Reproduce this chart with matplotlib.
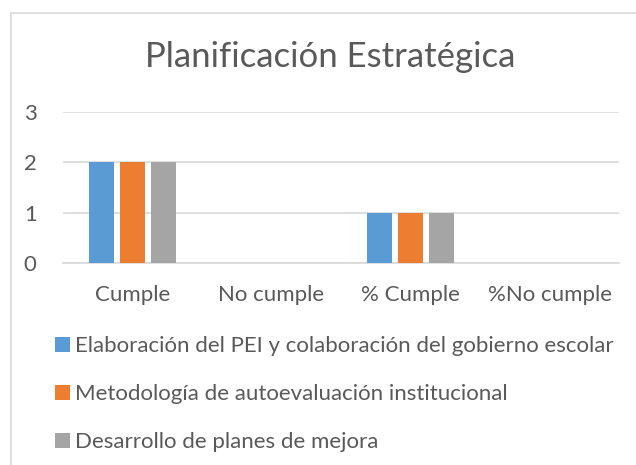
import matplotlib.pyplot as plt
import numpy as np
from matplotlib.patches import Rectangle

plt.rcParams['font.family'] = ['Lato', 'DejaVu Sans']

categorias = ['Cumple', 'No cumple', '% Cumple', '%No cumple']
series = ['Elaboración del PEI y colaboración del gobierno escolar',
          'Metodología de autoevaluación institucional',
          'Desarrollo de planes de mejora']
valores = [[2, 0, 1, 0],
           [2, 0, 1, 0],
           [2, 0, 1, 0]]
colores = ['#5b9bd5', '#ed7d31', '#a5a5a5']
gris_txt = '#595959'

W, H = 636, 465
fig = plt.figure(figsize=(W / 100, H / 100), dpi=100)
# marco del grafico (sale por abajo y por la derecha)
fig.patches.append(Rectangle((11 / W, -0.05), 0.99, 1 - 13 / H + 0.05,
                             transform=fig.transFigure, fill=False,
                             edgecolor='#d9d9d9', linewidth=1.2))

ax = fig.add_axes([63 / W, 1 - 263 / H, 556 / W, 151 / H])
x = np.arange(len(categorias))
ancho = 0.18
paso = 0.223
for i, (v, c) in enumerate(zip(valores, colores)):
    ax.bar(x + (i - 1) * paso, v, ancho, color=c, label=series[i], zorder=3)

ax.set_xlim(-0.5, len(categorias) - 0.5)
ax.set_ylim(0, 3)
ax.set_yticks([0, 1, 2, 3])
ax.yaxis.grid(True, color='#d9d9d9', linewidth=1.2, zorder=0)
for s in ['top', 'right', 'left']:
    ax.spines[s].set_visible(False)
ax.spines['bottom'].set_color('#d9d9d9')
ax.spines['bottom'].set_linewidth(1.2)
ax.tick_params(axis='both', length=0, labelsize=16, colors=gris_txt)
ax.tick_params(axis='y', pad=19)
ax.tick_params(axis='x', pad=16)
ax.set_xticks(x)
ax.set_xticklabels(categorias)

fig.text(330 / W, 1 - 67 / H, 'Planificación Estratégica', ha='center', va='baseline',
         fontsize=25, color=gris_txt)

h, l = ax.get_legend_handles_labels()
fig.legend(h, l, loc='upper left', bbox_to_anchor=(51 / W, 1 - 332 / H),
           frameon=False, fontsize=16, labelcolor=gris_txt, handlelength=0.64,
           handleheight=0.64, handletextpad=0.25, labelspacing=1.25,
           borderaxespad=0, borderpad=0.2)

plt.savefig('out.png', dpi=100)
